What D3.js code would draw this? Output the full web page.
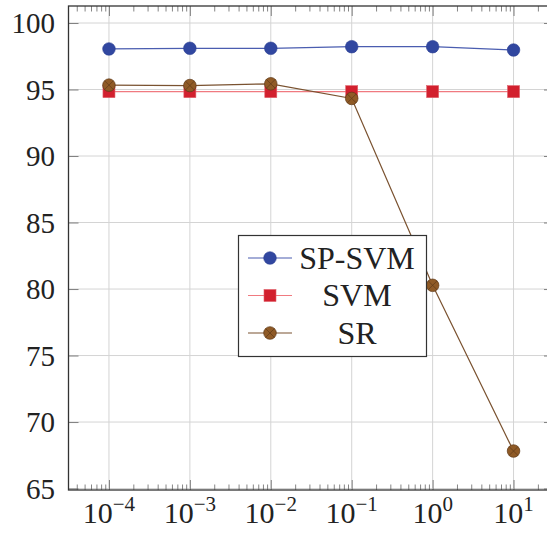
<!DOCTYPE html>
<html>
<head>
<meta charset="utf-8">
<script src="https://cdn.jsdelivr.net/npm/d3@7/dist/d3.min.js"></script>
<style>
  body { margin: 0; background: #fff; }
  text { font-family: "Liberation Serif", "Times New Roman", serif; fill: #222; }
</style>
</head>
<body>
<svg class="chart"></svg>
<script>
var width = 547, height = 533;

var cs = [1e-4, 1e-3, 1e-2, 1e-1, 1e0, 1e1];
var exps = ["−4", "−3", "−2", "−1", "0", "1"];
var spsvm = [98.05, 98.1, 98.1, 98.22, 98.22, 97.97];
var svm = [94.84, 94.84, 94.84, 94.84, 94.84, 94.84];
var sr = [95.33, 95.3, 95.43, 94.33, 80.28, 67.82];
var yTicks = [65, 70, 75, 80, 85, 90, 95, 100];

var pLeft = 68.5, pRight = 554, pTop = 6, pBottom = 490;

var x = d3.scaleLog()
    .domain([Math.pow(10, -4.5), Math.pow(10, 1.5)])
    .range([pLeft, pRight]);

var y = d3.scaleLinear()
    .domain([64.89, 101.28])
    .range([pBottom, pTop]);

var svg = d3.select(".chart")
    .attr("width", width)
    .attr("height", height);

// minor tick positions: 2..9 in each decade
var minor = [];
for (var e = -5; e <= 1; e++) {
  for (var m = 2; m <= 9; m++) {
    var v = m * Math.pow(10, e);
    if (x(v) > pLeft && x(v) < pRight) minor.push(v);
  }
}

// grid
svg.append("g").selectAll("line")
    .data(cs)
  .enter().append("line")
    .attr("x1", function(d) { return x(d); })
    .attr("x2", function(d) { return x(d); })
    .attr("y1", pTop).attr("y2", pBottom)
    .attr("stroke", "#d4d4d4").attr("stroke-width", 1);

svg.append("g").selectAll("line")
    .data(yTicks)
  .enter().append("line")
    .attr("x1", pLeft).attr("x2", pRight)
    .attr("y1", function(d) { return y(d); })
    .attr("y2", function(d) { return y(d); })
    .attr("stroke", "#d4d4d4").attr("stroke-width", 1);

// ticks (inward)
function tickAxes(axisFn, pos, values, size) {
  var g = svg.append("g")
      .attr("transform", pos)
      .call(axisFn.tickValues(values).tickSize(size).tickFormat(""));
  g.select(".domain").remove();
  g.selectAll(".tick line").attr("stroke", "#666").attr("stroke-width", 0.8);
  return g;
}
tickAxes(d3.axisBottom(x), "translate(0," + pBottom + ")", cs, -10);
tickAxes(d3.axisBottom(x), "translate(0," + pBottom + ")", minor, -5.5);
tickAxes(d3.axisTop(x), "translate(0," + pTop + ")", cs, -10);
tickAxes(d3.axisTop(x), "translate(0," + pTop + ")", minor, -5.5);
tickAxes(d3.axisLeft(y), "translate(" + pLeft + ",0)", yTicks, -10);
tickAxes(d3.axisRight(y), "translate(" + pRight + ",0)", yTicks, -10);

// frame
svg.append("rect")
    .attr("x", pLeft).attr("y", pTop)
    .attr("width", pRight - pLeft).attr("height", pBottom - pTop)
    .attr("fill", "none").attr("stroke", "#333").attr("stroke-width", 1.3);

// y labels
svg.append("g").selectAll("text")
    .data(yTicks)
  .enter().append("text")
    .attr("x", 55)
    .attr("y", function(d) { return y(d) + 10; })
    .attr("text-anchor", "end")
    .style("font-size", "29px")
    .text(function(d) { return d; });

// x labels with superscripts
var xl = svg.append("g").selectAll("text")
    .data(cs)
  .enter().append("text")
    .attr("x", function(d) { return x(d); })
    .attr("y", 523)
    .attr("text-anchor", "middle")
    .style("font-size", "30px");
xl.append("tspan").text("10");
xl.append("tspan")
    .attr("dy", -12)
    .style("font-size", "21px")
    .text(function(d, i) { return exps[i]; });

// series
var series = [
  { name: "SP-SVM", values: spsvm, line: "#4a5db0", fill: "#3147a0", stroke: "#2a3e92", mark: "circle" },
  { name: "SVM", values: svm, line: "#f07a80", fill: "#d2202e", stroke: "#e0606a", mark: "square" },
  { name: "SR", values: sr, line: "#7a5230", fill: "#8f5a26", stroke: "#5e3a18", mark: "otimes" }
];

var line = d3.line()
    .x(function(d, i) { return x(cs[i]); })
    .y(function(d) { return y(d); });

function drawMark(g, s, cx, cy) {
  if (s.mark === "circle") {
    g.append("circle").attr("cx", cx).attr("cy", cy).attr("r", 6.3)
        .attr("fill", s.fill).attr("stroke", s.stroke).attr("stroke-width", 0.6);
  } else if (s.mark === "square") {
    g.append("rect").attr("x", cx - 6).attr("y", cy - 6)
        .attr("width", 12).attr("height", 12)
        .attr("fill", s.fill).attr("stroke", s.stroke).attr("stroke-width", 0.6);
  } else {
    g.append("circle").attr("cx", cx).attr("cy", cy).attr("r", 6.3)
        .attr("fill", s.fill).attr("stroke", s.stroke).attr("stroke-width", 0.7);
    var k = 6.3 * Math.SQRT1_2;
    g.append("path")
        .attr("d", "M" + (cx - k) + "," + (cy - k) + "L" + (cx + k) + "," + (cy + k) +
                   "M" + (cx - k) + "," + (cy + k) + "L" + (cx + k) + "," + (cy - k))
        .attr("stroke", s.stroke).attr("stroke-width", 0.7);
  }
}

series.forEach(function(s) {
  var g = svg.append("g");
  g.append("path")
      .datum(s.values)
      .attr("d", line)
      .attr("fill", "none")
      .attr("stroke", s.line)
      .attr("stroke-width", 1.2);
  s.values.forEach(function(v, i) { drawMark(g, s, x(cs[i]), y(v)); });
});

// legend
var lg = svg.append("g");
lg.append("rect")
    .attr("x", 238.5).attr("y", 235.5)
    .attr("width", 188).attr("height", 121)
    .attr("fill", "#fff").attr("stroke", "#333").attr("stroke-width", 1.2);

series.forEach(function(s, i) {
  var cy = 258 + i * 37.5;
  lg.append("line")
      .attr("x1", 248).attr("x2", 292)
      .attr("y1", cy).attr("y2", cy)
      .attr("stroke", s.line).attr("stroke-width", 1.2);
  drawMark(lg, s, 270, cy);
  lg.append("text")
      .attr("x", 357)
      .attr("y", cy + 10.5)
      .attr("text-anchor", "middle")
      .style("font-size", "32px")
      .text(s.name);
});
</script>
</body>
</html>
